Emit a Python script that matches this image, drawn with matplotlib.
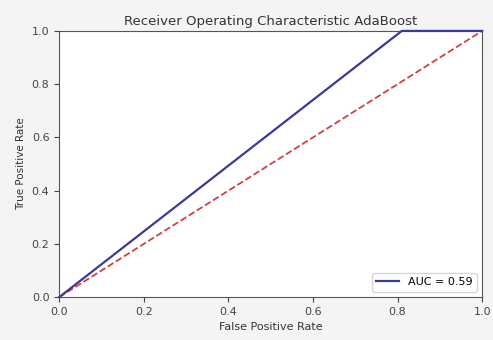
import matplotlib
matplotlib.use("Agg")
import matplotlib.pyplot as plt

fpr = [0.0, 0.81, 1.0]
tpr = [0.0, 1.0, 1.0]
diag = [0.0, 1.0]
auc_label = "AUC = 0.59"
title = "Receiver Operating Characteristic AdaBoost"

fig = plt.figure(figsize=(4.93, 3.40), dpi=100, facecolor="#f4f4f4")
ax = fig.add_axes([0.12, 0.126, 0.858, 0.783])
ax.plot(fpr, tpr, color="#3a3a9a", lw=1.6, label=auc_label, clip_on=False, zorder=3)
ax.plot(diag, diag, color="#d04040", ls="--", lw=1.3, clip_on=False, zorder=2)
ax.set_xlim(0, 1)
ax.set_ylim(0, 1)
ax.set_title(title, fontsize=9.5, color="#333333", pad=4)
ax.set_xlabel("False Positive Rate", fontsize=8, color="#333333")
ax.set_ylabel("True Positive Rate", fontsize=7.5, color="#333333")
ax.tick_params(labelsize=8, colors="#444444")
for s in ax.spines.values():
    s.set_color("#555555")
ax.legend(loc="lower right", fontsize=8)
fig.savefig("out.png", dpi=100, facecolor=fig.get_facecolor())
